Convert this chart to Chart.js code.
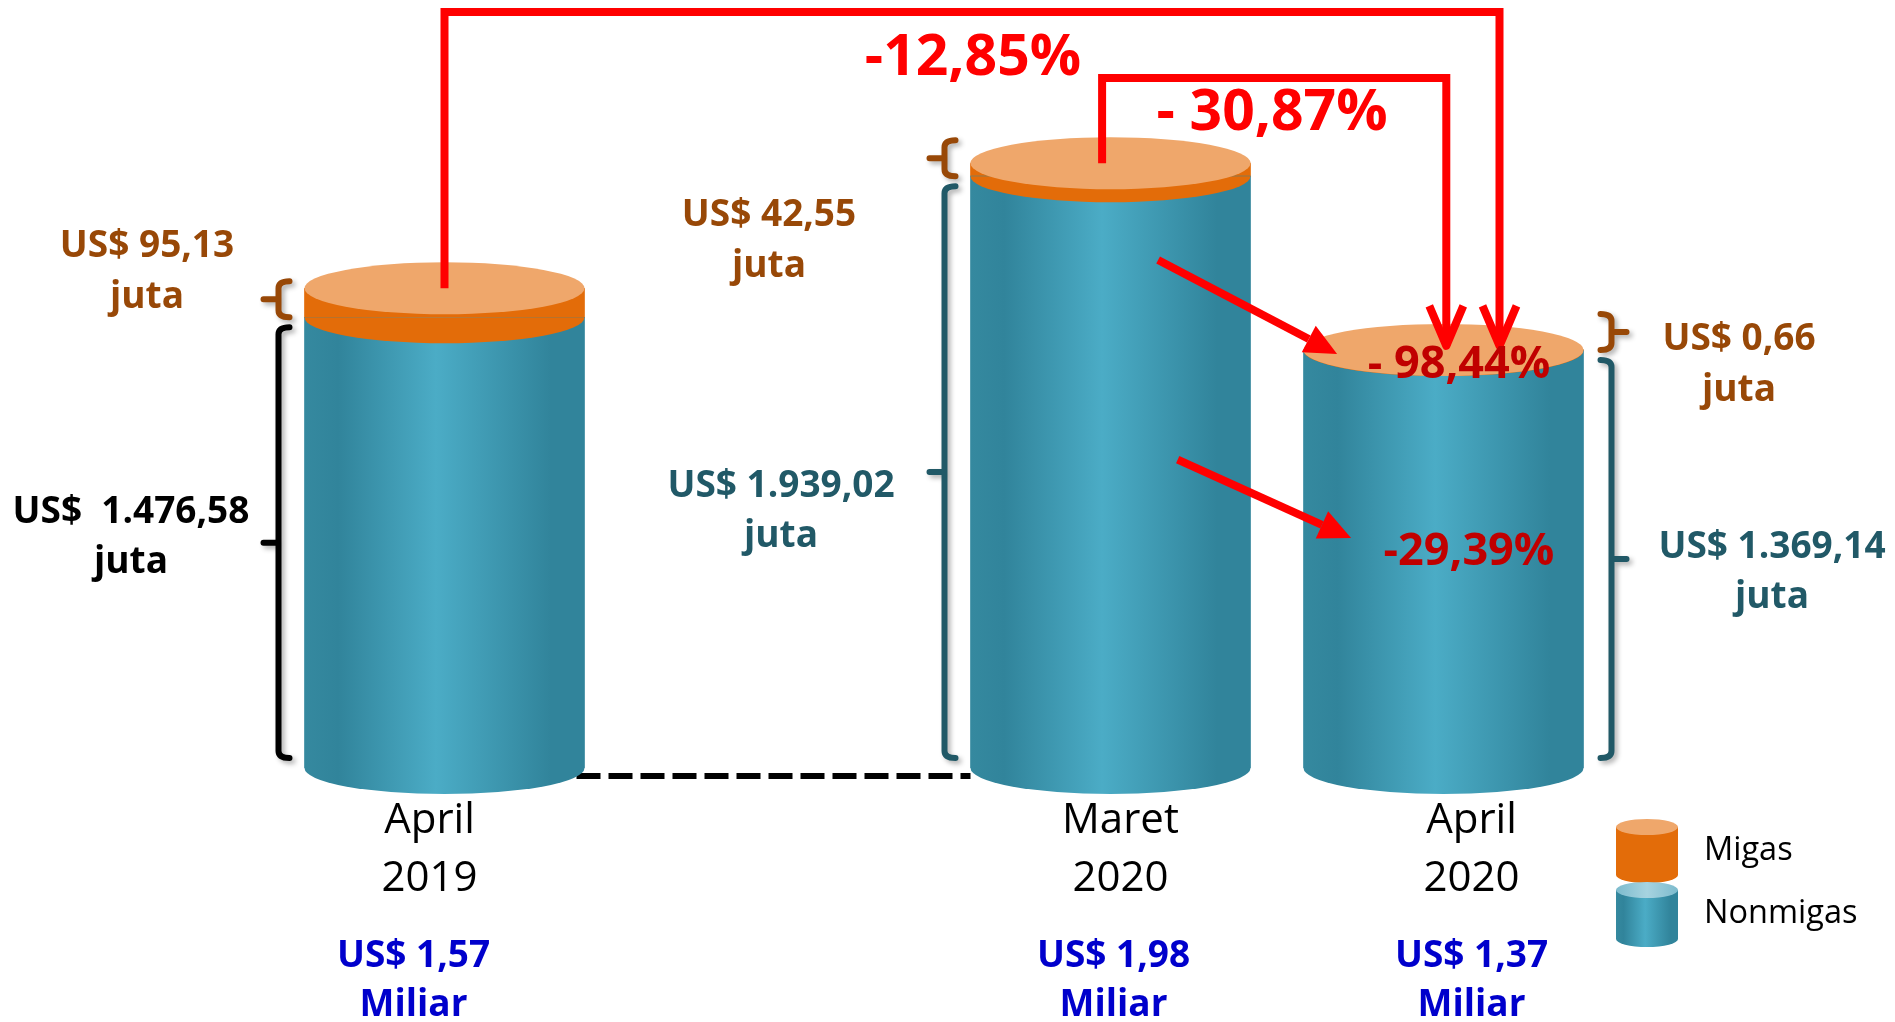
<!DOCTYPE html>
<html>
<head>
<meta charset="utf-8">
<script src="https://cdn.jsdelivr.net/npm/chart.js@4.4.1/dist/chart.umd.min.js"></script>
<style>
  html, body { margin: 0; padding: 0; background: #fff; overflow: hidden; }
  #wrap { width: 1895px; height: 1022px; }
</style>
</head>
<body>
<div id="wrap"><canvas id="chart" width="1895" height="1022"></canvas></div>
<script>
// ---- data (nilai dalam juta US$) ----
const categories = ['April 2019', '', 'Maret 2020', 'April 2020'];   // '' = jarak kosong antar tahun
const categoryLines = [['April', '2019'], [], ['Maret', '2020'], ['April', '2020']];
const seriesNames = ['Nonmigas', 'Migas'];
const nonmigas = [1476.58, null, 1939.02, 1369.14];
const migas = [95.13, null, 42.55, 0.66];
const nonmigasText = ['US$  1.476,58', '', 'US$ 1.939,02', 'US$ 1.369,14'];
const migasText = ['US$ 95,13', '', 'US$ 42,55', 'US$ 0,66'];
const totalText = ['US$ 1,57', '', 'US$ 1,98', 'US$ 1,37'];
const changeYoY = '-12,85%';
const changeMoM = '- 30,87%';
const changeMigas = '- 98,44%';
const changeNonmigas = '-29,39%';
const unitJuta = 'juta';
const unitMiliar = 'Miliar';

// ---- style ----
const ORANGE = '#E36C09';
const ORANGE_LIGHT = '#EFA76B';
const BROWN = '#984807';
const DARK_TEAL = '#215967';
const RED = '#FF0000';
const DARK_RED = '#C00000';
const BLUE = '#0000CC';
const BAR_W = 280;
const RY = 26;
const FONT = '"Open Sans", "Noto Sans", sans-serif';

// label placement (annotation text, px)
const migasPos = [[147, 257], null, [769, 226], [1739, 350]];
const nonmigasPos = [[131, 523], null, [781, 497], [1772, 558]];
const nonmigasColor = ['#000000', null, DARK_TEAL, DARK_TEAL];
const braceSide = [-1, 0, -1, 1];
const catShift = [-15, 0, 10, 28];
const totalShift = [-31, 0, 3, 28];

function tealGradient(ctx, left, right, light) {
  const g = ctx.createLinearGradient(left, 0, right, 0);
  if (light) {
    g.addColorStop(0, '#7dbbcd');
    g.addColorStop(0.5, '#a6d3e0');
    g.addColorStop(1, '#7dbbcd');
    return g;
  }
  g.addColorStop(0, '#35899f');
  g.addColorStop(0.12, '#31849B');
  g.addColorStop(0.47, '#4BACC6');
  g.addColorStop(0.88, '#31849B');
  g.addColorStop(1, '#31849B');
  return g;
}

function ellipse(ctx, x, y, rx, ry, a0, a1, fill) {
  ctx.beginPath();
  ctx.ellipse(x, y, rx, ry, 0, a0, a1);
  ctx.closePath();
  ctx.fillStyle = fill;
  ctx.fill();
}

function text(ctx, str, x, y, size, weight, color) {
  ctx.font = `${weight} ${size}px ${FONT}`;
  ctx.fillStyle = color;
  ctx.textAlign = 'center';
  ctx.textBaseline = 'alphabetic';
  ctx.fillText(str, x, y);
}

function brace(ctx, x, y1, y2, dir, color) {
  // dir +1 : kurung di kiri batang, kait menghadap kanan
  const hook = 11 * dir, nub = 15 * dir, mid = (y1 + y2) / 2;
  ctx.save();
  ctx.strokeStyle = color;
  ctx.lineWidth = 6;
  ctx.lineJoin = 'round';
  ctx.lineCap = 'round';
  ctx.shadowColor = 'rgba(0,0,0,0.3)';
  ctx.shadowBlur = 5;
  ctx.shadowOffsetX = 3;
  ctx.shadowOffsetY = 3;
  ctx.beginPath();
  ctx.moveTo(x + hook, y1);
  ctx.quadraticCurveTo(x, y1, x, y1 + 7);
  ctx.lineTo(x, y2 - 7);
  ctx.quadraticCurveTo(x, y2, x + hook, y2);
  ctx.moveTo(x, mid);
  ctx.lineTo(x - nub, mid);
  ctx.stroke();
  ctx.restore();
}

function elbowArrow(ctx, pts) {
  ctx.save();
  ctx.strokeStyle = RED;
  ctx.lineWidth = 8;
  ctx.lineJoin = 'miter';
  ctx.beginPath();
  pts.forEach((p, i) => i ? ctx.lineTo(p[0], p[1]) : ctx.moveTo(p[0], p[1]));
  ctx.stroke();
  const [tx, ty] = pts[pts.length - 1];
  ctx.lineJoin = 'round';
  ctx.beginPath();
  ctx.moveTo(tx - 17, ty - 40);
  ctx.lineTo(tx, ty);
  ctx.lineTo(tx + 17, ty - 40);
  ctx.stroke();
  ctx.restore();
}

function straightArrow(ctx, x1, y1, x2, y2) {
  const a = Math.atan2(y2 - y1, x2 - x1), len = 32, hw = 15;
  const bx = x2 - len * Math.cos(a), by = y2 - len * Math.sin(a);
  ctx.save();
  ctx.strokeStyle = RED;
  ctx.fillStyle = RED;
  ctx.lineWidth = 8;
  ctx.beginPath();
  ctx.moveTo(x1, y1);
  ctx.lineTo(bx, by);
  ctx.stroke();
  ctx.beginPath();
  ctx.moveTo(x2, y2);
  ctx.lineTo(bx + hw * Math.sin(a), by - hw * Math.cos(a));
  ctx.lineTo(bx - hw * Math.sin(a), by + hw * Math.cos(a));
  ctx.closePath();
  ctx.fill();
  ctx.restore();
}

const cylinders = {
  id: 'cylinders',
  afterDatasetsDraw(chart) {
    const ctx = chart.ctx;
    const nm = chart.getDatasetMeta(0).data;
    const mg = chart.getDatasetMeta(1).data;
    const bars = [];
    nm.forEach((el, i) => {
      if (nonmigas[i] == null) return;
      bars[i] = { x: el.x, w: el.width, base: el.base, mid: el.y, top: mg[i].y, mgBase: mg[i].base };
    });
    const b0 = bars[0], b2 = bars[2], b3 = bars[3];

    // garis putus-putus antara April 2019 dan Maret 2020
    ctx.save();
    ctx.strokeStyle = '#000';
    ctx.lineWidth = 6;
    ctx.setLineDash([24, 8]);
    ctx.beginPath();
    ctx.moveTo(b0.x + b0.w / 2 - 8, b0.base + 8);
    ctx.lineTo(b2.x - b2.w / 2, b0.base + 8);
    ctx.stroke();
    ctx.restore();

    // tutup & alas silinder
    bars.forEach(b => {
      if (!b) return;
      const l = b.x - b.w / 2, r = b.x + b.w / 2;
      ellipse(ctx, b.x, b.base, b.w / 2, RY, 0, Math.PI, tealGradient(ctx, l, r));
      ellipse(ctx, b.x, b.mid, b.w / 2, RY, 0, Math.PI, ORANGE);
      ellipse(ctx, b.x, b.top, b.w / 2, RY, 0, Math.PI * 2, ORANGE_LIGHT);
    });

    // kurung kurawal + label nilai
    bars.forEach((b, i) => {
      if (!b) return;
      const side = braceSide[i];
      const bx = side < 0 ? b.x - b.w / 2 - 26 : b.x + b.w / 2 + 28;
      const dir = -side;
      const mgTop = Math.min(b.top, b.mgBase - 36);
      brace(ctx, bx, mgTop, b.mgBase, dir, BROWN);
      brace(ctx, bx, b.mid + 10, b.base - 10, dir, nonmigasColor[i]);

      const [mx, my] = migasPos[i];
      text(ctx, migasText[i], mx, my, 37, 'bold', BROWN);
      text(ctx, unitJuta, mx, my + 51, 37, 'bold', BROWN);
      const [nx, ny] = nonmigasPos[i];
      text(ctx, nonmigasText[i], nx, ny, 37, 'bold', nonmigasColor[i]);
      text(ctx, unitJuta, nx, ny + 50, 37, 'bold', nonmigasColor[i]);

      // kategori + total
      const lines = categoryLines[i];
      text(ctx, lines[0], b.x + catShift[i], 833, 42, 'normal', '#000');
      text(ctx, lines[1], b.x + catShift[i], 891, 42, 'normal', '#000');
      text(ctx, totalText[i], b.x + totalShift[i], 967, 37, 'bold', BLUE);
      text(ctx, unitMiliar, b.x + totalShift[i], 1016, 37, 'bold', BLUE);
    });

    // panah perubahan
    elbowArrow(ctx, [[b0.x, b0.top], [b0.x, 12], [b3.x + 0.2 * b3.w, 12], [b3.x + 0.2 * b3.w, b3.top - 4]]);
    elbowArrow(ctx, [[b2.x - 0.03 * b2.w, b2.top], [b2.x - 0.03 * b2.w, 78], [b3.x + 0.01 * b3.w, 78], [b3.x + 0.01 * b3.w, b3.top - 4]]);
    const h2 = b2.base - b2.top, h3 = b3.base - b3.top;
    straightArrow(ctx, b2.x + 0.17 * b2.w, b2.top + 0.16 * h2, b3.x - 0.38 * b3.w, b3.top + 4);
    straightArrow(ctx, b2.x + 0.24 * b2.w, b2.top + 0.49 * h2, b3.x - 0.33 * b3.w, b3.top + 0.45 * h3);

    text(ctx, changeYoY, 973, 75, 57, 'bold', RED);
    text(ctx, changeMoM, 1272, 130, 57, 'bold', RED);
    text(ctx, changeMigas, 1459, 378, 45, 'bold', DARK_RED);
    text(ctx, changeNonmigas, 1469, 565, 45, 'bold', DARK_RED);

    // legenda
    const lx = 1647, lw = 62;
    const legend = [
      { name: seriesNames[1], top: 827, bottom: 875, body: ORANGE, cap: ORANGE_LIGHT },
      { name: seriesNames[0], top: 890, bottom: 939, body: tealGradient(ctx, lx - lw / 2, lx + lw / 2), cap: tealGradient(ctx, lx - lw / 2, lx + lw / 2, true) }
    ];
    legend.forEach(it => {
      ctx.fillStyle = it.body;
      ctx.fillRect(lx - lw / 2, it.top, lw, it.bottom - it.top);
      ellipse(ctx, lx, it.bottom, lw / 2, 8, 0, Math.PI, it.body);
      ellipse(ctx, lx, it.top, lw / 2, 8, 0, Math.PI * 2, it.cap);
      ctx.font = `normal 32.5px ${FONT}`;
      ctx.fillStyle = '#000';
      ctx.textAlign = 'left';
      ctx.fillText(it.name, 1704, it.top + 33);
    });
  }
};

new Chart(document.getElementById('chart'), {
  type: 'bar',
  data: {
    labels: categories,
    datasets: [
      {
        label: seriesNames[0],
        data: nonmigas,
        stack: 'ekspor',
        barThickness: BAR_W,
        backgroundColor: c => {
          const xs = c.chart.scales.x;
          if (!xs || c.dataIndex == null) return '#4BACC6';
          const cx = xs.getPixelForValue(c.dataIndex);
          if (!isFinite(cx)) return '#4BACC6';
          return tealGradient(c.chart.ctx, cx - BAR_W / 2, cx + BAR_W / 2);
        }
      },
      {
        label: seriesNames[1],
        data: migas,
        stack: 'ekspor',
        barThickness: BAR_W,
        backgroundColor: ORANGE
      }
    ]
  },
  options: {
    responsive: false,
    animation: false,
    layout: { padding: { left: 278, right: 285, top: 66, bottom: 254 } },
    scales: {
      x: { display: false, stacked: true },
      y: { display: false, stacked: true, min: 0, max: 2300 }
    },
    plugins: { legend: { display: false }, tooltip: { enabled: false } }
  },
  plugins: [cylinders]
});
</script>
</body>
</html>
